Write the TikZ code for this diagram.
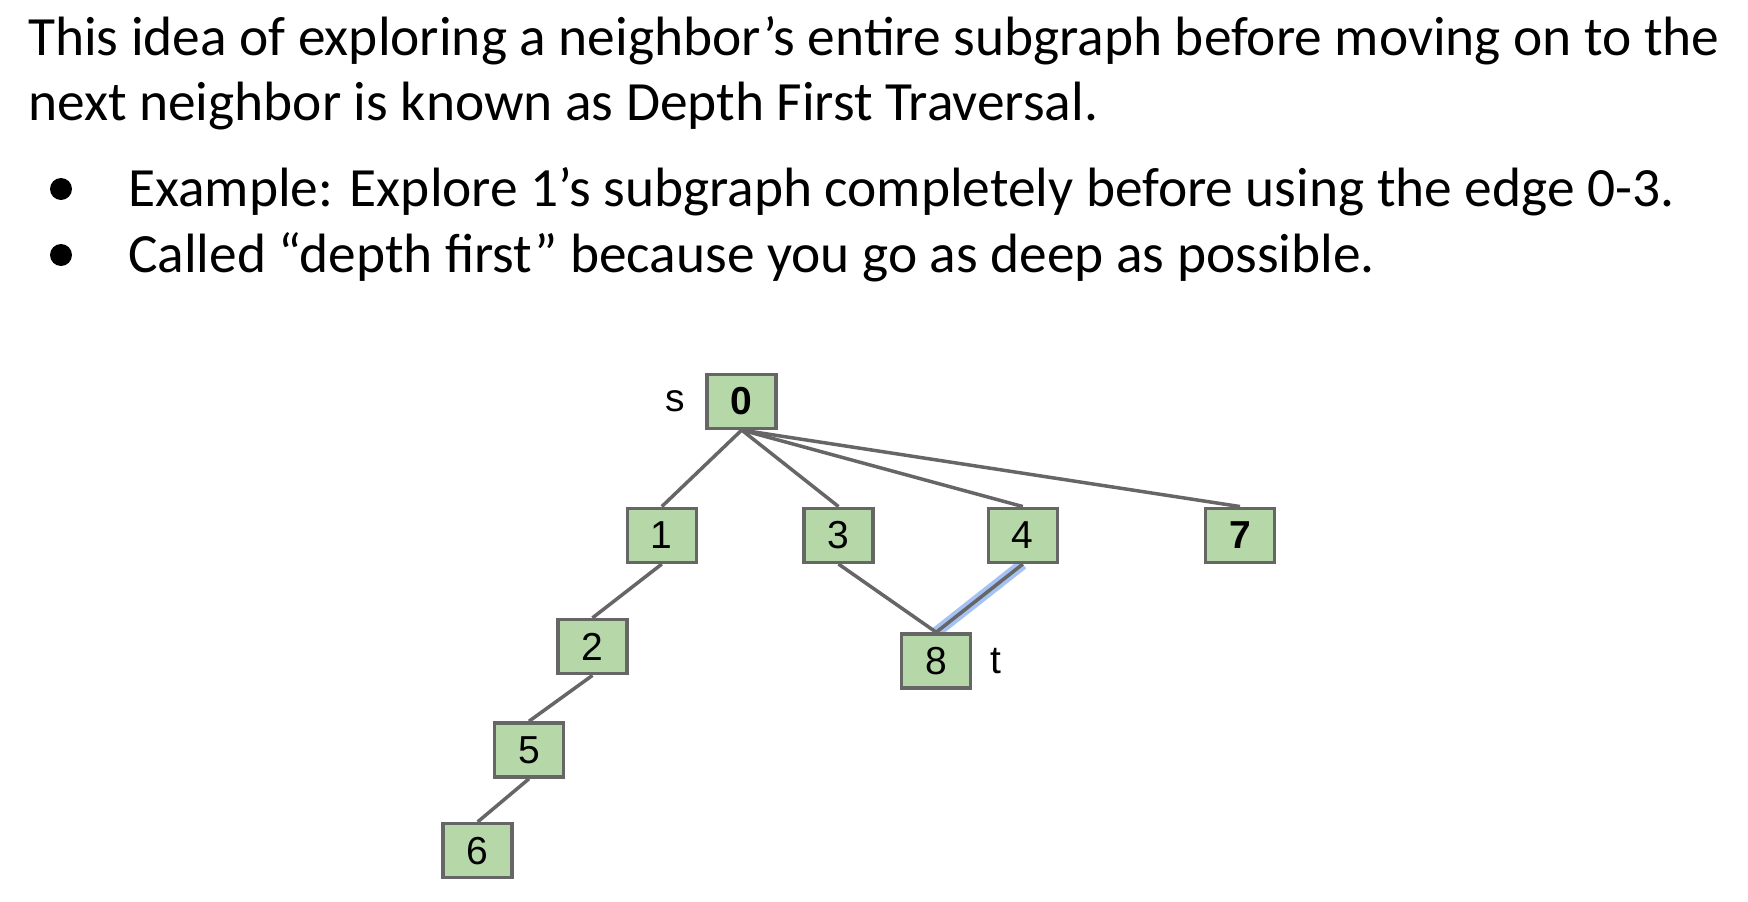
\documentclass[tikz,border=0pt]{standalone}
\usepackage{fontspec}
\setmainfont{Carlito}
\newfontfamily\arialf{Liberation Sans}
\usetikzlibrary{backgrounds}
\definecolor{edgegray}{HTML}{666666}
\definecolor{boxgreen}{HTML}{B6D7A8}
\definecolor{hiblue}{HTML}{A4C2F4}
\tikzset{
  vbox/.style={rectangle, draw=edgegray, line width=3.5pt, fill=boxgreen, minimum width=69pt, minimum height=54pt, inner sep=0pt, font=\arialf\fontsize{39}{39}\selectfont},
  gedge/.style={draw=edgegray, line width=3.5pt},
  hiedge/.style={draw=hiblue, line width=11pt},
  lbl/.style={font=\arialf\fontsize{39}{39}\selectfont, inner sep=0pt},
  bodytext/.style={anchor=base west, inner sep=0pt, font=\fontsize{55.4}{66}\selectfont},
  dot/.style={circle, fill=black, minimum size=22pt, inner sep=0pt}
}
\begin{document}
\begin{tikzpicture}[x=1pt,y=-1pt]
\useasboundingbox (0,0) rectangle (1748,902);
\node[bodytext] (l1) at (28,55.7) {This idea of exploring a neighbor’s entire subgraph before moving on to the};
\node[bodytext] (l2) at (28,120.4) {next neighbor is known as Depth First Traversal.};
\node[dot] (b1) at (61,189) {};
\node[bodytext] (t1) at (128,206) {Example: Explore 1’s subgraph completely before using the edge 0-3.};
\node[dot] (b2) at (61,255) {};
\node[bodytext] (t2) at (128,272) {Called “depth first” because you go as deep as possible.};

\node[vbox] (n0) at (741.7,401.3) {\bfseries 0};
\node[vbox] (n1) at (661.8,535.3) {1};
\node[vbox] (n3) at (838.5,535.3) {3};
\node[vbox] (n4) at (1022.8,535.3) {4};
\node[vbox] (n7) at (1240,535.3) {\bfseries 7};
\node[vbox] (n2) at (592.5,646.6) {2};
\node[vbox] (n8) at (936.2,661) {8};
\node[vbox] (n5) at (529,750) {5};
\node[vbox] (n6) at (477.7,850.6) {6};
\node[lbl] (s) at (675,401.3) {s};
\node[lbl] (t) at (995.5,661) {t};

\begin{scope}[on background layer]
\fill[white] (0,0) rectangle (1748,902);
\draw[hiedge] (n4.south) -- (n8.north);
\draw[gedge] (n0.south) -- (n1.north);
\draw[gedge] (n0.south) -- (n3.north);
\draw[gedge] (n0.south) -- (n4.north);
\draw[gedge] (n0.south) -- (n7.north);
\draw[gedge] (n1.south) -- (n2.north);
\draw[gedge] (n2.south) -- (n5.north);
\draw[gedge] (n5.south) -- (n6.north);
\draw[gedge] (n3.south) -- (n8.north);
\draw[gedge] (n4.south) -- (n8.north);
\end{scope}
\end{tikzpicture}
\end{document}
